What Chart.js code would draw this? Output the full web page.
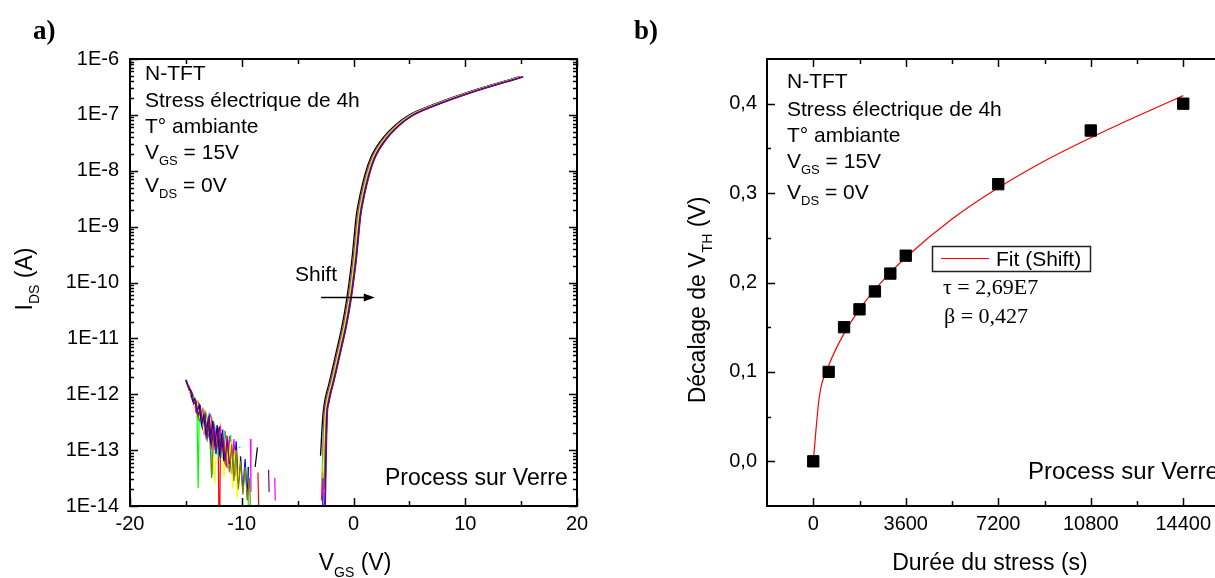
<!DOCTYPE html>
<html>
<head>
<meta charset="utf-8">
<script src="https://cdn.jsdelivr.net/npm/chart.js@4.4.1/dist/chart.umd.min.js"></script>
<style>
  html, body { margin: 0; padding: 0; background: #fff; overflow: hidden; width: 1215px; height: 578px; }
  #grapheA { position: absolute; left: 0; top: 0; }
  #grapheB { position: absolute; left: 600px; top: 0; }
</style>
</head>
<body>
<canvas id="grapheA" width="600" height="578"></canvas>
<canvas id="grapheB" width="640" height="578"></canvas>
<script>
// ---------- a) courbes de transfert IDS(VGS), log10(IDS) ----------
// branche "on" de la courbe de reference (noire, avant stress)
const vgsTransfert = [-2.95, -2.75, -2.6, -2.45, -2.25, -1.95, -1.5, -1.05, -0.65, -0.4, -0.15, 0.0, 0.25, 0.6, 1.05, 1.55, 2.45, 3.7, 4.9, 6.95, 10.0, 14.8];
const logIdsTransfert = [-13.1, -12.4, -12.15, -12.0, -11.85, -11.6, -11.2, -10.8, -10.35, -10.0, -9.6, -9.3, -8.8, -8.42, -8.05, -7.76, -7.46, -7.19, -7.01, -6.83, -6.61, -6.32];
// pied de chaque courbe (log10 IDS du premier point)
const piedCourbe = [-13.1, -13.9, -13.6, -14.3, -13.4, -13.8, -13.5, -13.7, -14.1, -14.3];

const couleurs = ['#000000', '#ff0000', '#00ff00', '#0000ff', '#00ffff', '#ff00ff', '#ffff00', '#808000', '#000080', '#800080'];

// bruit de la branche "off" : paires VGS, log10(IDS) ; null, null = coupure
const bruitNoir = [-15,-11.75, -14.8,-11.83, -14.6,-11.99, -14.4,-11.99, -14.2,-12.18, -14.0,-12.13, -13.8,-12.46, -13.6,-12.35, -13.4,-12.66, -13.2,-12.38, -13.0,-12.71, -12.8,-12.43, -12.6,-12.96, -12.4,-12.69, -12.2,-13.06, -12.0,-12.58, -11.8,-13.07, -11.6,-12.73, -11.4,-13.29, -11.2,-12.86, null,null, -8.8,-13.3, -8.6,-12.95];
const bruitRouge = [-15,-11.76, -14.9,-11.81, -14.7,-11.87, -14.5,-12.06, -14.3,-12.07, -14.1,-12.28, -13.9,-12.16, -13.7,-12.4, -13.5,-12.6, -13.3,-12.34, -13.1,-12.69, -12.9,-12.52, -12.7,-12.93, -12.5,-12.55, -12.3,-12.91, -12.1,-13.0, -12.0,-15, -11.9,-12.71, -11.7,-13.13, -11.5,-12.66, -11.3,-13.28, -11.1,-12.94, -10.9,-13.42, -10.7,-12.9, -10.5,-13.47, null,null, -8.55,-13.4, -8.45,-14.3];
const bruitVert = [-15,-11.74, -14.8,-11.86, -14.6,-11.91, -14.4,-12.09, -14.2,-12.06, -14.0,-12.37, -13.9,-13.68, -13.8,-12.26, -13.6,-12.52, -13.4,-12.3, -13.2,-12.62, -13.0,-12.47, -12.8,-12.89, -12.6,-12.5, -12.4,-12.9, -12.2,-12.63, -12.0,-13.14, -11.8,-12.78, -11.6,-13.21, -11.4,-12.73, -11.2,-13.21, -11.0,-12.73, -10.8,-13.45, -10.6,-12.99, -10.4,-13.58, null,null, -9.45,-13.3, -9.35,-15];
const bruitBleu = [-15,-11.75, -14.9,-11.79, -14.7,-11.92, -14.5,-11.95, -14.3,-12.18, -14.1,-12.14, -13.9,-12.33, -13.7,-12.22, -13.5,-12.59, -13.3,-12.47, -13.1,-12.78, -12.9,-12.43, -12.7,-12.81, -12.5,-12.58, -12.3,-13.07, -12.1,-12.73, -11.9,-13.14, -11.7,-12.63, -11.5,-13.14, -11.3,-12.75, -11.1,-13.37, -10.9,-12.99, -10.7,-13.38, -10.5,-12.84, -10.3,-13.62, -10.1,-13.11, -9.9,-13.74, -9.7,-13.16, -9.5,-13.85, -9.4,-13.3];
const bruitCyan = [-15,-11.76, -14.8,-11.87, -14.6,-11.94, -14.4,-12.11, -14.2,-12.09, -14.0,-12.3, -13.8,-12.19, -13.6,-12.57, -13.4,-12.39, -13.2,-12.68, -13.0,-12.39, -12.8,-12.73, -12.6,-13.45, -12.4,-12.59, -12.2,-13.09, -12.0,-12.69, -11.8,-13.13, -11.6,-12.64, -11.4,-13.14, -11.2,-12.96, null,null, -10.3,-12.95, -10.1,-12.95];
const bruitMagenta = [-15,-11.75, -14.9,-11.81, -14.7,-11.86, -14.5,-12.04, -14.3,-12.06, -14.1,-12.31, -13.9,-12.19, -13.7,-12.43, -13.5,-12.28, -13.3,-12.68, -13.1,-12.51, -12.9,-12.76, -12.7,-12.45, -12.5,-13.0, -12.3,-12.64, -12.1,-12.9, -11.9,-12.6, -11.7,-13.16, -11.5,-12.84, -11.3,-13.32, -11.1,-12.75, -10.9,-13.26, -10.7,-12.8, -10.5,-13.44, null,null, -9.22,-12.8, -9.18,-13.75, null,null, -7.05,-13.5, -7.0,-13.9];
const bruitJaune = [-15,-11.77, -14.8,-11.83, -14.6,-12.0, -14.4,-12.03, -14.2,-12.21, -14.0,-12.13, -13.8,-12.4, -13.6,-12.28, -13.4,-12.66, -13.2,-12.42, -13.0,-12.66, -12.8,-12.45, -12.6,-12.98, -12.4,-13.6, -12.2,-12.6, -12.0,-13.1, -11.8,-12.75, -11.6,-13.5, -11.4,-12.8, -11.2,-13.3, -11.0,-12.85, -10.8,-13.7, -10.6,-13.0, -10.4,-13.85, -10.2,-13.1];
const bruitOlive = [-15,-11.75, -14.9,-11.8, -14.7,-11.92, -14.5,-11.94, -14.3,-12.16, -14.1,-12.15, -13.9,-12.42, -13.7,-12.27, -13.5,-12.48, -13.3,-12.34, -13.1,-12.78, -12.9,-12.54, -12.7,-13.5, -12.5,-12.6, -12.3,-13.0, -12.1,-12.6, -11.9,-13.1, -11.7,-12.7, -11.5,-13.25, -11.3,-12.75, -11.1,-13.4, -10.9,-12.9, -10.7,-13.55, -10.5,-13.0, -10.3,-13.7, -10.1,-13.2, -9.9,-13.8, -9.7,-13.3, -9.5,-13.9, -9.3,-13.5, -9.1,-15];
const bruitMarine = [-15,-11.74, -14.8,-11.86, -14.6,-11.92, -14.4,-12.12, -14.2,-12.08, -14.0,-12.32, -13.8,-12.2, -13.6,-12.55, -13.4,-12.39, -13.2,-12.74, -13.0,-12.45, -12.8,-12.84, -12.6,-12.48, -12.4,-12.93, -12.2,-12.55, -12.0,-13.1, -11.8,-12.7, -11.6,-13.2];
const bruitViolet = [-15,-11.75, -14.9,-11.79, -14.7,-11.92, -14.5,-11.96, -14.3,-12.17, -14.1,-12.12, -13.9,-12.38, -13.7,-12.24, -13.5,-12.5, -13.3,-12.38, -13.1,-12.73, -12.9,-12.41, -12.7,-12.9, -12.5,-12.6, -12.3,-13.07, -12.1,-12.62, -11.9,-13.05, -11.7,-12.75, -11.5,-13.2, -11.3,-12.8, -11.1,-13.25, null,null, -7.6,-13.35, -7.55,-13.75];
const bruits = [bruitNoir, bruitRouge, bruitVert, bruitBleu, bruitCyan, bruitMagenta, bruitJaune, bruitOlive, bruitMarine, bruitViolet];

const ticksXA = [-20, -10, 0, 10, 20];
const etiquettesXA = ['-20', '-10', '0', '10', '20'];
const mineursXA = [-15, -5, 5, 15];
const ticksYA = [1e-14, 1e-13, 1e-12, 1e-11, 1e-10, 1e-9, 1e-8, 1e-7, 1e-6];
const etiquettesYA = ['1E-14', '1E-13', '1E-12', '1E-11', '1E-10', '1E-9', '1E-8', '1E-7', '1E-6'];
const mineursYA = [];
for (let e = -14; e < -6; e++) for (let m = 2; m <= 9; m++) mineursYA.push(m * Math.pow(10, e));

// ---------- b) decalage de VTH en fonction de la duree du stress ----------
const dureeStress = [0, 600, 1200, 1800, 2400, 3000, 3600, 7200, 10800, 14400];
const decalageVth = [0, 0.10, 0.15, 0.17, 0.19, 0.21, 0.23, 0.31, 0.37, 0.40];
const dureeFit = [0, 240, 600, 1200, 1800, 2400, 3000, 3600, 5400, 7200, 9000, 10800, 12600, 14400];
const decalageFit = [0, 0.073, 0.107, 0.143, 0.170, 0.192, 0.211, 0.228, 0.271, 0.306, 0.336, 0.362, 0.386, 0.409];

const ticksXB = [0, 3600, 7200, 10800, 14400];
const etiquettesXB = ['0', '3600', '7200', '10800', '14400'];
const mineursXB = [1800, 5400, 9000, 12600];
const ticksYB = [0, 0.1, 0.2, 0.3, 0.4];
const etiquettesYB = ['0,0', '0,1', '0,2', '0,3', '0,4'];
const mineursYB = [0.05, 0.15, 0.25, 0.35];

// ---------- outils ----------
const SANS = '"Liberation Sans", Arial, sans-serif';
const SERIF = '"Liberation Serif", "Times New Roman", serif';
Chart.defaults.color = '#000';
Chart.defaults.font.family = SANS;

function police(taille, famille, gras) {
  return (gras ? 'bold ' : '') + taille + 'px ' + famille;
}

// morceaux : [texte, indice?]
function ecrire(ctx, x, y, morceaux, taille, align, famille, gras) {
  famille = famille || SANS;
  const petit = Math.round(taille * 0.6);
  let largeur = 0;
  morceaux.forEach(m => {
    ctx.font = police(m[1] ? petit : taille, famille, gras);
    largeur += ctx.measureText(m[0]).width;
  });
  let cx = align === 'center' ? x - largeur / 2 : (align === 'right' ? x - largeur : x);
  ctx.textAlign = 'left';
  ctx.textBaseline = 'alphabetic';
  ctx.fillStyle = '#000';
  morceaux.forEach(m => {
    ctx.font = police(m[1] ? petit : taille, famille, gras);
    ctx.fillText(m[0], cx, m[1] ? y + taille * 0.3 : y);
    cx += ctx.measureText(m[0]).width;
  });
}

function ecrireVertical(ctx, cx, cy, morceaux, taille) {
  ctx.save();
  ctx.translate(cx + taille * 0.358, cy);
  ctx.rotate(-Math.PI / 2);
  ecrire(ctx, 0, 0, morceaux, taille, 'center');
  ctx.restore();
}

function bloc(ctx, x, lignes) {
  lignes.forEach(l => ecrire(ctx, x, l[0], l[1], 21));
}

function cadre(gx, gxm, gy, gym) {
  return {
    id: 'cadre',
    afterDatasetsDraw(chart) {
      const { ctx, chartArea: a } = chart;
      const sx = chart.scales.x, sy = chart.scales.y;
      ctx.save();
      ctx.strokeStyle = '#000';
      ctx.lineWidth = 1.5;
      const trait = (x1, y1, x2, y2) => { ctx.beginPath(); ctx.moveTo(x1, y1); ctx.lineTo(x2, y2); ctx.stroke(); };
      const verticales = (vals, L) => vals.forEach(v => {
        const p = Math.round(sx.getPixelForValue(v)) + 0.5;
        trait(p, a.bottom, p, a.bottom - L);
        trait(p, a.top, p, a.top + L);
      });
      const horizontales = (vals, L) => vals.forEach(v => {
        const p = Math.round(sy.getPixelForValue(v)) + 0.5;
        trait(a.left, p, a.left + L, p);
        trait(a.right, p, a.right - L, p);
      });
      verticales(gx, 8); verticales(gxm, 5);
      horizontales(gy, 8); horizontales(gym, 4);
      ctx.lineWidth = 2;
      ctx.strokeRect(a.left, a.top, a.right - a.left, a.bottom - a.top);
      ctx.restore();
    }
  };
}

function axes(minX, maxX, tx, ex, typeY, minY, maxY, ty, ey, largeurY, padY) {
  return {
    x: {
      type: 'linear', min: minX, max: maxX,
      afterBuildTicks: s => { s.ticks = tx.map(v => ({ value: v })); },
      afterFit: s => { s.height = 72; },
      ticks: { callback: (v, i) => ex[i], font: { size: 20 }, padding: 6, maxRotation: 0, autoSkip: false },
      grid: { display: false, drawTicks: false },
      border: { display: false }
    },
    y: {
      type: typeY, min: minY, max: maxY,
      afterBuildTicks: s => { s.ticks = ty.map(v => ({ value: v })); },
      afterFit: s => { s.width = largeurY; },
      ticks: { callback: (v, i) => ey[i], font: { size: 20 }, padding: padY, autoSkip: false },
      grid: { display: false, drawTicks: false },
      border: { display: false }
    }
  };
}

// ---------- graphe a) ----------
const jeuxA = [];
bruits.forEach((b, i) => {
  const pts = [];
  let dernierX = -15;
  for (let k = 0; k < b.length; k += 2) {
    if (b[k] === null) { pts.push({ x: dernierX, y: null }); continue; }
    dernierX = b[k];
    pts.push({ x: b[k], y: Math.pow(10, b[k + 1]) });
  }
  jeuxA.push({ data: pts, showLine: true, borderColor: couleurs[i], borderWidth: 1.2, pointRadius: 0, tension: 0, order: 20 - i });
});
couleurs.forEach((c, i) => {
  const pts = vgsTransfert.map((v, k) => ({ x: v + decalageVth[i], y: Math.pow(10, k === 0 ? piedCourbe[i] : logIdsTransfert[k]) }));
  jeuxA.push({ data: pts, showLine: true, borderColor: c, borderWidth: 1.3, pointRadius: 0, cubicInterpolationMode: 'monotone', order: 10 - i });
});

const flecheShift = { de: -2.9, a: 1.9, ids: 5.5e-11 };

const textesA = {
  id: 'textesA',
  afterDraw(chart) {
    const ctx = chart.ctx;
    const sx = chart.scales.x, sy = chart.scales.y;
    ctx.save();
    ecrire(ctx, 33, 39, [['a)']], 27, 'left', SERIF, true);
    bloc(ctx, 145, [
      [80, [['N-TFT']]],
      [107, [['Stress électrique de 4h']]],
      [133, [['T° ambiante']]],
      [159, [['V'], ['GS', 1], [' = 15V']]],
      [192, [['V'], ['DS', 1], [' = 0V']]]
    ]);
    ecrire(ctx, 385, 485, [['Process sur Verre']], 23);
    ecrire(ctx, 295, 281, [['Shift']], 21);
    // fleche
    const x1 = sx.getPixelForValue(flecheShift.de), x2 = sx.getPixelForValue(flecheShift.a);
    const y = Math.round(sy.getPixelForValue(flecheShift.ids)) + 0.5;
    ctx.strokeStyle = '#000'; ctx.lineWidth = 1.5;
    ctx.beginPath(); ctx.moveTo(x1, y); ctx.lineTo(x2 - 8, y); ctx.stroke();
    ctx.fillStyle = '#000';
    ctx.beginPath(); ctx.moveTo(x2, y); ctx.lineTo(x2 - 11, y - 4); ctx.lineTo(x2 - 11, y + 4); ctx.closePath(); ctx.fill();
    ecrire(ctx, 355, 570, [['V'], ['GS', 1], [' (V)']], 23, 'center');
    ecrireVertical(ctx, 24, 279, [['I'], ['DS', 1], [' (A)']], 23);
    ctx.restore();
  }
};

new Chart(document.getElementById('grapheA'), {
  type: 'scatter',
  data: { datasets: jeuxA },
  options: {
    responsive: false,
    animation: false,
    events: [],
    layout: { padding: { left: 0, top: 59, right: 23, bottom: 0 } },
    plugins: { legend: { display: false }, tooltip: { enabled: false } },
    scales: axes(-20, 20, ticksXA, etiquettesXA, 'logarithmic', 1e-14, 1e-6, ticksYA, etiquettesYA, 130, 11)
  },
  plugins: [cadre(ticksXA, mineursXA, ticksYA, mineursYA), textesA]
});

// ---------- graphe b) ----------
const OX = 600; // decalage du canvas b dans la page

const textesB = {
  id: 'textesB',
  afterDraw(chart) {
    const ctx = chart.ctx;
    ctx.save();
    ctx.translate(-OX, 0);
    ecrire(ctx, 634, 39, [['b)']], 27, 'left', SERIF, true);
    bloc(ctx, 787, [
      [88, [['N-TFT']]],
      [116, [['Stress électrique de 4h']]],
      [142, [['T° ambiante']]],
      [168, [['V'], ['GS', 1], [' = 15V']]],
      [199, [['V'], ['DS', 1], [' = 0V']]]
    ]);
    // legende
    ctx.strokeStyle = '#222'; ctx.lineWidth = 1.5;
    ctx.strokeRect(932.5, 246.5, 158, 25);
    ctx.strokeStyle = '#ff0000'; ctx.lineWidth = 1.2;
    ctx.beginPath(); ctx.moveTo(941, 258.5); ctx.lineTo(989, 258.5); ctx.stroke();
    ecrire(ctx, 996, 266, [['Fit (Shift)']], 21);
    ecrire(ctx, 943, 294, [['τ = 2,69E7']], 22, 'left', SERIF);
    ecrire(ctx, 944, 323, [['β = 0,427']], 22, 'left', SERIF);
    ecrire(ctx, 1028, 479, [['Process sur Verre']], 24);
    ecrire(ctx, 990, 570, [['Durée du stress (s)']], 23, 'center');
    ecrireVertical(ctx, 697, 300, [['Décalage de V'], ['TH', 1], [' (V)']], 23);
    ctx.restore();
  }
};

new Chart(document.getElementById('grapheB'), {
  type: 'scatter',
  data: {
    datasets: [
      {
        data: dureeStress.map((t, i) => ({ x: t, y: decalageVth[i] })),
        pointStyle: 'rect', pointRadius: 8, backgroundColor: '#000', borderColor: '#000', borderWidth: 1, order: 0
      },
      {
        data: dureeFit.map((t, i) => ({ x: t, y: decalageFit[i] })),
        showLine: true, borderColor: '#ff0000', borderWidth: 1.2, pointRadius: 0, cubicInterpolationMode: 'monotone', order: 1
      }
    ]
  },
  options: {
    responsive: false,
    animation: false,
    events: [],
    layout: { padding: { left: 0, top: 59, right: 10.5, bottom: 0 } },
    plugins: { legend: { display: false }, tooltip: { enabled: false } },
    scales: axes(-1800, 16200, ticksXB, etiquettesXB, 'linear', -0.05, 0.45, ticksYB, etiquettesYB, 167, 10)
  },
  plugins: [cadre(ticksXB, mineursXB, ticksYB, mineursYB), textesB]
});
</script>
</body>
</html>
